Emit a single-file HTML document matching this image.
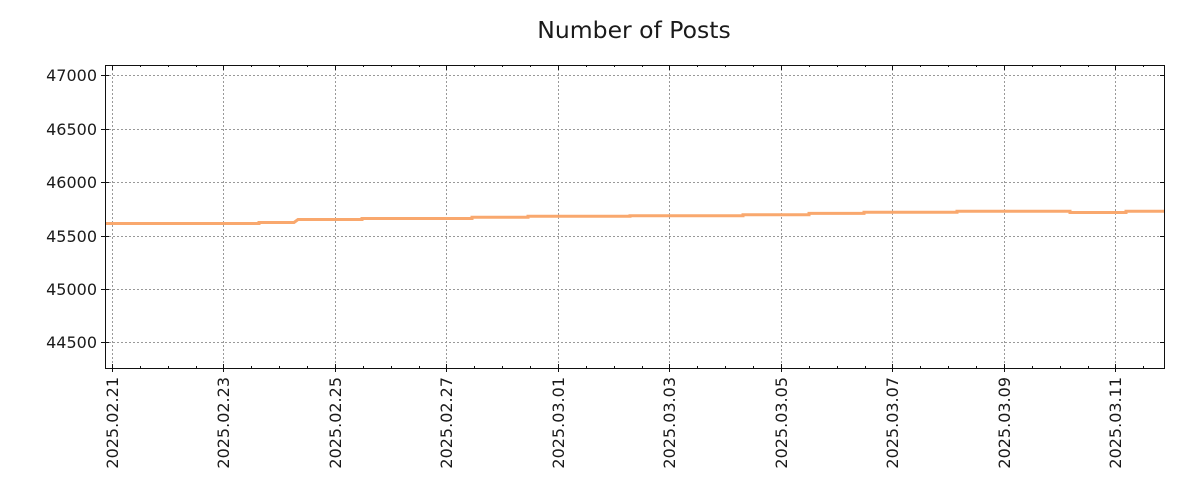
<!DOCTYPE html>
<html><head><meta charset="utf-8"><style>body{margin:0;background:#fff}svg{display:block}text{font-family:"DejaVu Sans","Liberation Sans",sans-serif;fill:#1a1a1a}</style></head><body>
<svg width="1200" height="500" xmlns="http://www.w3.org/2000/svg">
<text x="634" y="38" font-size="23.5" text-anchor="middle">Number of Posts</text>
<g stroke="#999" stroke-width="1" stroke-dasharray="2,2">
<line x1="105" x2="1164" y1="75.5" y2="75.5"/><line x1="105" x2="1164" y1="129.5" y2="129.5"/><line x1="105" x2="1164" y1="182.5" y2="182.5"/><line x1="105" x2="1164" y1="236.5" y2="236.5"/><line x1="105" x2="1164" y1="289.5" y2="289.5"/><line x1="105" x2="1164" y1="342.5" y2="342.5"/>
<line y1="65" y2="368" x1="112.5" x2="112.5"/><line y1="65" y2="368" x1="223.5" x2="223.5"/><line y1="65" y2="368" x1="335.5" x2="335.5"/><line y1="65" y2="368" x1="446.5" x2="446.5"/><line y1="65" y2="368" x1="558.5" x2="558.5"/><line y1="65" y2="368" x1="669.5" x2="669.5"/><line y1="65" y2="368" x1="781.5" x2="781.5"/><line y1="65" y2="368" x1="892.5" x2="892.5"/><line y1="65" y2="368" x1="1004.5" x2="1004.5"/><line y1="65" y2="368" x1="1115.5" x2="1115.5"/>
</g>
<polyline fill="none" stroke="#f9a86e" stroke-width="3" points="105,223.5 259,223.5 259,222.5 294,222.5 296,221 298,219.5 362,219.5 362,218.5 472,218.5 472,217.3 528,217.3 528,216.3 630,216.3 630,215.7 743,215.7 743,214.7 809,214.7 809,213.4 864,213.4 864,212.3 957,212.3 957,211.3 1070,211.3 1070,212.5 1126,212.5 1126,211.3 1164,211.3"/>
<rect x="105.5" y="65.5" width="1059" height="303" fill="none" stroke="#111" stroke-width="1"/>
<g stroke="#111" stroke-width="1">
<path d="M101,75.5h8M101,129.5h8M101,182.5h8M101,236.5h8M101,289.5h8M101,342.5h8"/>
<path d="M1160,75.5h4M1160,129.5h4M1160,182.5h4M1160,236.5h4M1160,289.5h4M1160,342.5h4"/>
<path d="M112.5,364v8M223.5,364v8M335.5,364v8M446.5,364v8M558.5,364v8M669.5,364v8M781.5,364v8M892.5,364v8M1004.5,364v8M1115.5,364v8"/>
<path d="M112.5,65v5M223.5,65v5M335.5,65v5M446.5,65v5M558.5,65v5M669.5,65v5M781.5,65v5M892.5,65v5M1004.5,65v5M1115.5,65v5"/>
<path d="M140.5,366v2M168.5,366v2M196.5,366v2M251.5,366v2M279.5,366v2M307.5,366v2M363.5,366v2M391.5,366v2M419.5,366v2M474.5,366v2M502.5,366v2M530.5,366v2M586.5,366v2M614.5,366v2M642.5,366v2M697.5,366v2M725.5,366v2M753.5,366v2M809.5,366v2M837.5,366v2M865.5,366v2M920.5,366v2M948.5,366v2M976.5,366v2M1032.5,366v2M1060.5,366v2M1088.5,366v2M1143.5,366v2"/>
<path d="M140.5,65v2M168.5,65v2M196.5,65v2M251.5,65v2M279.5,65v2M307.5,65v2M363.5,65v2M391.5,65v2M419.5,65v2M474.5,65v2M502.5,65v2M530.5,65v2M586.5,65v2M614.5,65v2M642.5,65v2M697.5,65v2M725.5,65v2M753.5,65v2M809.5,65v2M837.5,65v2M865.5,65v2M920.5,65v2M948.5,65v2M976.5,65v2M1032.5,65v2M1060.5,65v2M1088.5,65v2M1143.5,65v2"/>
</g>
<g font-size="16" text-anchor="end">
<text x="97" y="81">47000</text><text x="97" y="135">46500</text><text x="97" y="188">46000</text><text x="97" y="242">45500</text><text x="97" y="295">45000</text><text x="97" y="348">44500</text>
</g>
<g font-size="16" text-anchor="end">
<text transform="translate(118,377) rotate(-90)">2025.02.21</text>
<text transform="translate(229,377) rotate(-90)">2025.02.23</text>
<text transform="translate(341,377) rotate(-90)">2025.02.25</text>
<text transform="translate(452,377) rotate(-90)">2025.02.27</text>
<text transform="translate(564,377) rotate(-90)">2025.03.01</text>
<text transform="translate(675,377) rotate(-90)">2025.03.03</text>
<text transform="translate(787,377) rotate(-90)">2025.03.05</text>
<text transform="translate(898,377) rotate(-90)">2025.03.07</text>
<text transform="translate(1010,377) rotate(-90)">2025.03.09</text>
<text transform="translate(1121,377) rotate(-90)">2025.03.11</text>
</g>
</svg>
</body></html>
